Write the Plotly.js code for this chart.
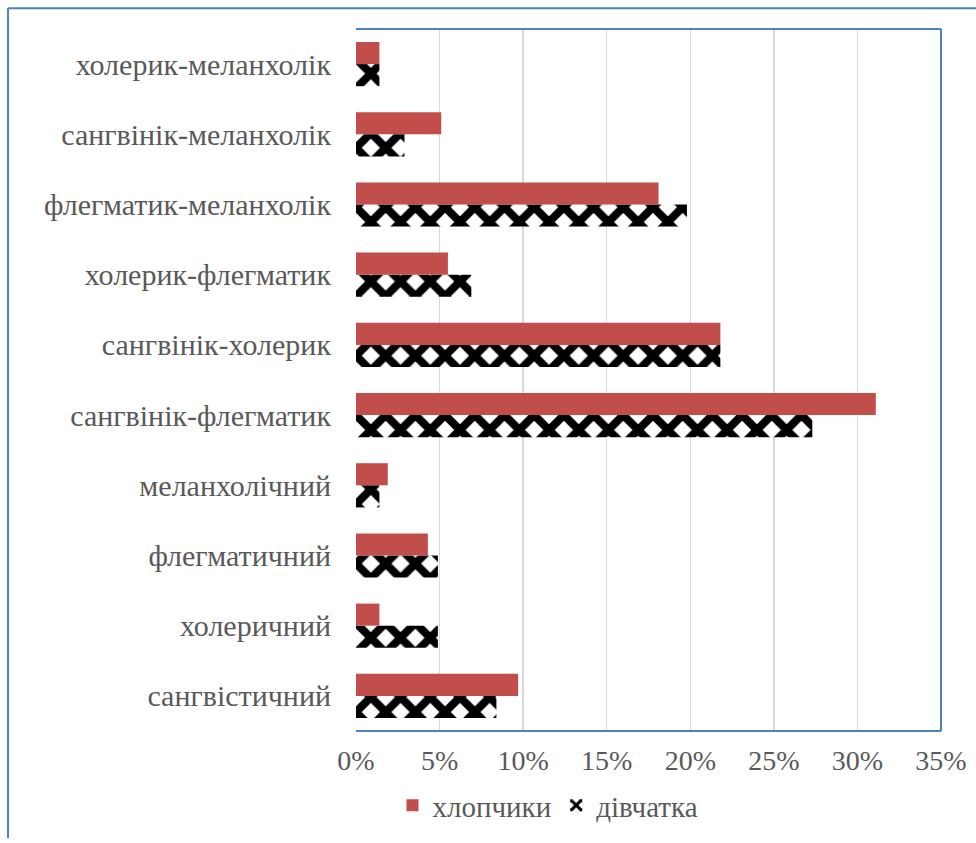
<!DOCTYPE html>
<html>
<head>
<meta charset="utf-8">
<script src="https://cdn.plot.ly/plotly-3.0.1.min.js"></script>
<style>
  html, body { margin: 0; padding: 0; background: #ffffff; }
  #chart { width: 976px; height: 843px; }
</style>
</head>
<body>
<div id="chart"></div>
<script>
// Categories (bottom to top)
const categories = [
  "сангвістичний",
  "холеричний",
  "флегматичний",
  "меланхолічний",
  "сангвінік-флегматик",
  "сангвінік-холерик",
  "холерик-флегматик",
  "флегматик-меланхолік",
  "сангвінік-меланхолік",
  "холерик-меланхолік"
];
// Values in fractions (percent axis)
const boys  = [0.097, 0.014, 0.043, 0.019, 0.311, 0.218, 0.055, 0.181, 0.051, 0.014];
const girls = [0.084, 0.049, 0.049, 0.014, 0.273, 0.218, 0.069, 0.198, 0.029, 0.014];
const xTicks = [0, 0.05, 0.10, 0.15, 0.20, 0.25, 0.30, 0.35];
const xTickLabels = ["0%", "5%", "10%", "15%", "20%", "25%", "30%", "35%"];

const textColor = "#595959";
const fontFam = "Liberation Serif, Times New Roman, serif";
const frameBlue = "#4f81bd";

const traceGirls = {
  type: "bar",
  orientation: "h",
  name: "дівчатка",
  y: categories,
  x: girls,
  marker: {
    color: "#ffffff",
    line: { width: 0 },
    pattern: { shape: "x", fgcolor: "#000000", bgcolor: "#ffffff", size: 21, solidity: 0.62, fillmode: "replace" }
  },
  hoverinfo: "x+y"
};
const traceBoys = {
  type: "bar",
  orientation: "h",
  name: "хлопчики",
  y: categories,
  x: boys,
  marker: { color: "#c24e4c", line: { width: 0 } },
  hoverinfo: "x+y"
};

const PX = { l: 356, r: 941, t: 29, b: 737 };
const pw = PX.r - PX.l, ph = PX.b - PX.t;
const px2x = p => (p - PX.l) / pw;
const py2y = p => (PX.b - p) / ph;

const layout = {
  width: 976,
  height: 843,
  margin: { l: PX.l, r: 976 - PX.r, t: PX.t, b: 843 - PX.b, pad: 0 },
  paper_bgcolor: "#ffffff",
  plot_bgcolor: "#ffffff",
  barmode: "group",
  bargap: 0.37,
  bargroupgap: 0,
  font: { family: fontFam, size: 28, color: textColor },
  xaxis: {
    range: [0, 0.35],
    tickvals: xTicks,
    ticktext: xTickLabels,
    showgrid: true,
    gridcolor: "#d9d9d9",
    gridwidth: 1.5,
    zeroline: false,
    showline: false,
    ticks: "",
    ticklabelstandoff: 10,
    tickfont: { family: fontFam, size: 28, color: textColor },
    fixedrange: true
  },
  yaxis: {
    type: "category",
    categoryorder: "array",
    categoryarray: categories,
    showgrid: false,
    zeroline: false,
    showline: false,
    ticks: "",
    ticklabelstandoff: 24,
    tickfont: { family: fontFam, size: 30, color: textColor },
    fixedrange: true
  },
  showlegend: true,
  legend: {
    orientation: "h",
    traceorder: "reversed",
    x: px2x(548),
    xanchor: "center",
    y: py2y(812),
    yanchor: "middle",
    font: { family: fontFam, size: 29, color: textColor },
    bgcolor: "rgba(0,0,0,0)",
    itemwidth: 30
  },
  shapes: [
    // plot-area frame: top, right, bottom
    { type: "line", xref: "paper", yref: "paper", x0: 0, x1: 1, y0: 1, y1: 1, line: { color: frameBlue, width: 2 } },
    { type: "line", xref: "paper", yref: "paper", x0: 1, x1: 1, y0: 0, y1: 1, line: { color: frameBlue, width: 2 } },
    { type: "line", xref: "paper", yref: "paper", x0: 0, x1: 1, y0: 0, y1: 0, line: { color: frameBlue, width: 2 } },
    // outer chart frame (left & top visible)
    { type: "line", xref: "paper", yref: "paper", x0: px2x(8), x1: px2x(8), y0: py2y(845), y1: py2y(8), line: { color: frameBlue, width: 2 } },
    { type: "line", xref: "paper", yref: "paper", x0: px2x(8), x1: px2x(978), y0: py2y(8), y1: py2y(8), line: { color: frameBlue, width: 2 } }
  ]
};

Plotly.newPlot("chart", [traceGirls, traceBoys], layout, { displayModeBar: false, staticPlot: true });
</script>
</body>
</html>
